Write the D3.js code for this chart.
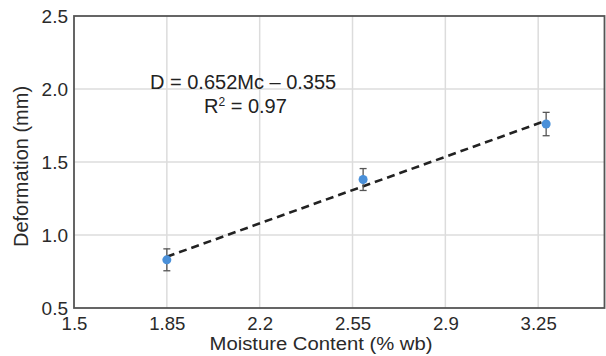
<!DOCTYPE html>
<html><head><meta charset="utf-8">
<script src="https://cdn.jsdelivr.net/npm/d3@7"></script>
<style>body{margin:0;background:#fff}svg{display:block}text{font-family:"Liberation Sans",Arial,sans-serif}</style>
</head><body><svg id="c" width="606" height="356"></svg>
<script>
const moisture = [1.85, 2.59, 3.28];
const deformation = [0.83, 1.38, 1.76];
const errors = [0.075, 0.075, 0.08];
const xTicks = [1.5, 1.85, 2.2, 2.55, 2.9, 3.25];
const yTicks = [0.5, 1.0, 1.5, 2.0, 2.5];
const slope = 0.652, intercept = -0.355;
const fitRange = [1.85, 3.28];

const W = 606, H = 356;
const m = {left: 74, top: 16, right: 1.5, bottom: 48};
const svg = d3.select("#c");
const x = d3.scaleLinear().domain([1.5, 3.5]).range([m.left, W - m.right]);
const y = d3.scaleLinear().domain([0.5, 2.5]).range([H - m.bottom, m.top]);

// grid
svg.append("g").selectAll("line").data(xTicks.slice(1)).join("line")
  .attr("x1", d => x(d)).attr("x2", d => x(d)).attr("y1", y(2.5)).attr("y2", y(0.5))
  .attr("stroke", "#dcdcdc").attr("stroke-width", 1.5);
svg.append("g").selectAll("line").data(yTicks.slice(1, -1)).join("line")
  .attr("y1", d => y(d)).attr("y2", d => y(d)).attr("x1", x(1.5)).attr("x2", x(3.5))
  .attr("stroke", "#dcdcdc").attr("stroke-width", 1.5);

// frame
svg.append("rect").attr("x", x(1.5)).attr("y", y(2.5))
  .attr("width", x(3.5) - x(1.5)).attr("height", y(0.5) - y(2.5))
  .attr("fill", "none").attr("stroke", "#555").attr("stroke-width", 1.8);

// axes labels
const xAxis = d3.axisBottom(x).tickValues(xTicks).tickFormat(d => String(d)).tickSize(0).tickPadding(9);
const gx = svg.append("g").attr("transform", `translate(0,${y(0.5)})`).call(xAxis);
gx.select(".domain").remove();
gx.selectAll("text").attr("font-size", 18.6).attr("fill", "#2a2a2a").attr("font-family", "Liberation Sans, Arial, sans-serif");

const yAxis = d3.axisLeft(y).tickValues(yTicks).tickFormat(d3.format(".1f")).tickSize(0).tickPadding(6);
const gy = svg.append("g").attr("transform", `translate(${x(1.5)},0)`).call(yAxis);
gy.select(".domain").remove();
gy.selectAll("text").attr("font-size", 19).attr("fill", "#2a2a2a").attr("font-family", "Liberation Sans, Arial, sans-serif");

svg.append("text").attr("x", 209.5).attr("y", 350)
  .attr("font-size", 17.5).attr("textLength", 223).attr("lengthAdjust", "spacingAndGlyphs")
  .attr("fill", "#2a2a2a").text("Moisture Content (% wb)");
svg.append("text").attr("transform", `translate(28,166.5) rotate(-90)`).attr("text-anchor", "middle")
  .attr("font-size", 20).attr("fill", "#2a2a2a").text("Deformation (mm)");

// trend line
const line = d3.line().x(d => x(d)).y(d => y(slope * d + intercept));
svg.append("path").datum(fitRange).attr("d", line)
  .attr("fill", "none").attr("stroke", "#222").attr("stroke-width", 2.6).attr("stroke-dasharray", "8,5");

// error bars and points
const pts = moisture.map((v, i) => ({x: v, y: deformation[i], e: errors[i]}));
const eb = svg.append("g").attr("stroke", "#555").attr("stroke-width", 1.3);
pts.forEach(p => {
  eb.append("line").attr("x1", x(p.x)).attr("x2", x(p.x)).attr("y1", y(p.y + p.e)).attr("y2", y(p.y - p.e));
  [p.y + p.e, p.y - p.e].forEach(v => eb.append("line")
    .attr("x1", x(p.x) - 3.5).attr("x2", x(p.x) + 3.5).attr("y1", y(v)).attr("y2", y(v)));
});
svg.append("g").selectAll("circle").data(pts).join("circle")
  .attr("cx", d => x(d.x)).attr("cy", d => y(d.y)).attr("r", 4.5).attr("fill", "#4a90d9");

// equation
svg.append("text").attr("x", 150).attr("y", 88.5).attr("font-size", 20).attr("fill", "#222")
  .text("D = 0.652Mc \u2013 0.355");
const r2 = svg.append("text").attr("x", 204).attr("y", 113.3).attr("font-size", 20).attr("fill", "#222");
r2.append("tspan").text("R");
r2.append("tspan").attr("font-size", 12).attr("dy", -7).text("2");
r2.append("tspan").attr("dy", 7).text(" = 0.97");
</script></body></html>
